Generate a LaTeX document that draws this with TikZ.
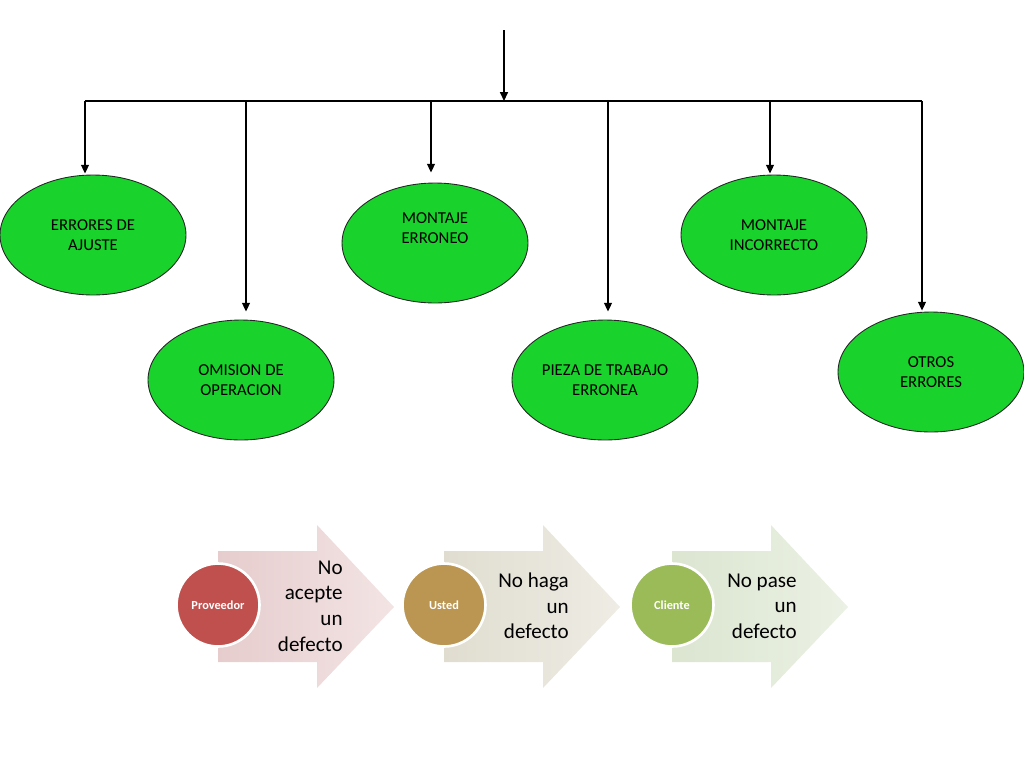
\documentclass[tikz,border=0pt]{standalone}
\usepackage{fontspec}
\setmainfont{Carlito}
\usepackage{xcolor}
\usetikzlibrary{shapes,arrows.meta,positioning,calc}
\definecolor{errgreen}{RGB}{26,210,44}
\definecolor{provred}{RGB}{192,80,77}
\definecolor{ustedtan}{RGB}{186,150,82}
\definecolor{clientegreen}{RGB}{155,187,89}
\definecolor{provbgA}{RGB}{230,204,205}
\definecolor{provbgB}{RGB}{243,228,228}
\definecolor{ustedbgA}{RGB}{224,221,208}
\definecolor{ustedbgB}{RGB}{238,236,228}
\definecolor{clientebgA}{RGB}{219,229,208}
\definecolor{clientebgB}{RGB}{235,241,228}
\tikzset{
  errbox/.style={ellipse, draw=black!85, line width=0.5pt, fill=errgreen, minimum width=3.72cm, minimum height=2.4cm, inner sep=0pt, align=center, font=\fontsize{9.5}{11.5}\selectfont},
  arr/.style={-{Triangle[length=5pt,width=4.5pt]}, line width=0.8pt},
  stagecirc/.style={circle, draw=white, line width=1.5pt, minimum size=1.66cm, inner sep=0pt, text=white, font=\fontsize{7}{8}\selectfont\bfseries},
  stagetext/.style={anchor=east, align=right, inner sep=0pt, font=\fontsize{12}{14.6}\selectfont}
}

\begin{document}
\begin{tikzpicture}[x=0.02cm, y=-0.02cm]
    \useasboundingbox (0,0) rectangle (1024,768);

    % error types
    \node[errbox] (e1) at (93,235) {ERRORES DE\\AJUSTE};
    \node[errbox] (e2) at (241,380) {OMISION DE\\OPERACION};
    \node[errbox, label={[align=center, yshift=0.3cm, font=\fontsize{9.5}{11.5}\selectfont, name=e3text]center:MONTAJE\\ERRONEO}] (e3) at (435,243) {};
    \node[errbox] (e4) at (605,380) {PIEZA DE TRABAJO\\ERRONEA};
    \node[errbox] (e5) at (774,235) {MONTAJE\\INCORRECTO};
    \node[errbox] (e6) at (931,372) {OTROS\\ERRORES};

    % bus
    \coordinate (src) at (504,30);
    \coordinate (bus) at (504,101);
    \coordinate (d1) at (85,101);
    \coordinate (d2) at (246,101);
    \coordinate (d3) at (431,101);
    \coordinate (d4) at (608,101);
    \coordinate (d5) at (770,101);
    \coordinate (d6) at (922,101);
    \draw[arr] (src) -- (bus);
    \draw[line width=0.8pt] (d1) -- (d6);
    \foreach \i/\g in {1/1, 2/8, 3/10, 4/8, 5/1, 6/1}
        \draw[arr, shorten >=\g*0.02cm] (d\i) -- (d\i |- e\i.north);

    % stages
    \foreach \i/\L/\cc/\ca/\cb/\who/\what in {
        1/218/provred/provbgA/provbgB/Proveedor/{No\\acepte\\un\\defecto},
        2/444/ustedtan/ustedbgA/ustedbgB/Usted/{No haga\\un\\defecto},
        3/672/clientegreen/clientebgA/clientebgB/Cliente/{No pase\\un\\defecto}} {
        \shade[left color=\ca, right color=\cb]
            (\L,551) -- ++(99,0) -- ++(0,-26) -- ++(77,82) -- ++(-77,81) -- ++(0,-26) -- ++(-99,0) -- cycle;
        \node[stagecirc, fill=\cc] (c\i) at (\L,605) {\who};
        \node[stagetext] (t\i) at (\L+125,606) {\what};
    }
\end{tikzpicture}
\end{document}
